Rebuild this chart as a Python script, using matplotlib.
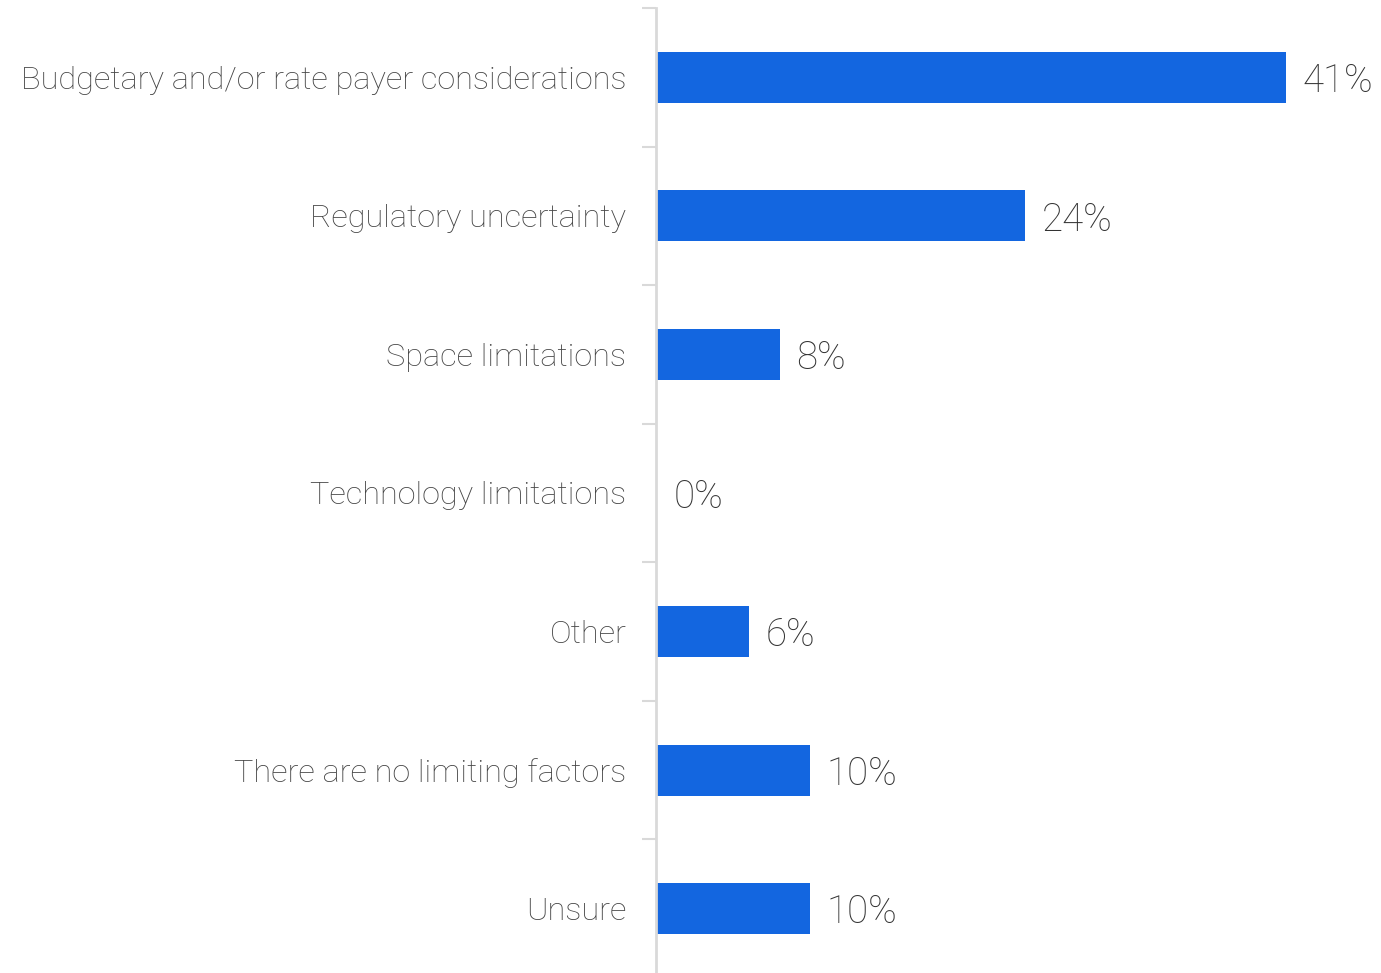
import matplotlib
matplotlib.use("Agg")
import matplotlib.pyplot as plt
import numpy as np

categories = ["Budgetary and/or rate payer considerations", "Regulatory uncertainty",
              "Space limitations", "Technology limitations", "Other",
              "There are no limiting factors", "Unsure"]
values = [41, 24, 8, 0, 6, 10, 10]
value_labels = ["41%", "24%", "8%", "0%", "6%", "10%", "10%"]

W, H = 1381, 973
fig = plt.figure(figsize=(W / 100, H / 100), dpi=100)
ax_left = 655 / W
ax_top = 1 - 8 / H
ax_bottom = -5 / H
ax = fig.add_axes([ax_left, ax_bottom, 1 - ax_left, ax_top - ax_bottom])

n = len(categories)
y = np.arange(n)
px_per = (1286 - 657) / 41
ax.barh(y, values, height=0.37, color="#1366E0", left=1.5 / px_per)
ax.set_ylim(n - 0.5, -0.5)
ax.set_xlim(-0.5 / px_per, (W - 655) / px_per - 0.5 / px_per)

for s in ["top", "right", "bottom"]:
    ax.spines[s].set_visible(False)
ax.spines["left"].set_color("#d9d9d9")
ax.spines["left"].set_linewidth(2)
ax.spines["left"].set_position(("data", 0))
ax.set_xticks([])
ax.set_yticks(y)
ax.set_yticklabels(categories, fontfamily="Roboto", fontweight="light", fontsize=23.4,
                   color="#444444")
ax.tick_params(axis="y", which="major", length=0, pad=21)
ax.set_yticks(np.arange(-0.5, n, 1), minor=True)
ax.tick_params(axis="y", which="minor", length=10, width=1.5, color="#d9d9d9")

for yi, v, lab in zip(y, values, value_labels):
    ax.text(v + 18 / px_per, yi, lab, va="center_baseline", ha="left", fontfamily="Roboto",
            fontweight="light", fontsize=27.7, color="#333333")

fig.savefig("out.png", dpi=100)
